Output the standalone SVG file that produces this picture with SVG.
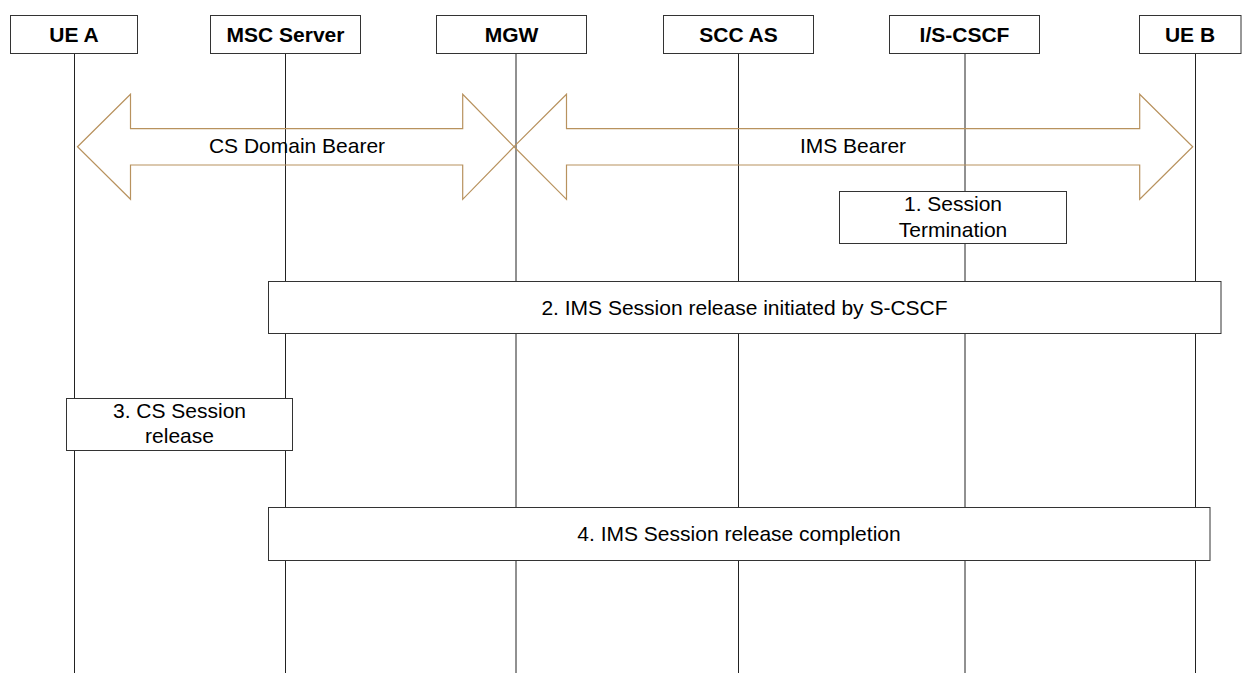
<svg xmlns="http://www.w3.org/2000/svg" width="1242" height="673" viewBox="0 0 1242 673">
<style>
.hdr{fill:#fff;stroke:#333;stroke-width:1}
.ht{font-family:"Liberation Sans",Arial,sans-serif;font-size:21px;font-weight:bold;fill:#000;text-anchor:middle}
.life{stroke:#222;stroke-width:1;fill:none}
.bearer{fill:none;stroke:#B8925E;stroke-width:1.2}
.box{fill:#fff;stroke:#333;stroke-width:1}
.t{font-family:"Liberation Sans",Arial,sans-serif;font-size:21px;fill:#000;text-anchor:middle}
</style>
<rect width="1242" height="673" fill="#fff"/>
<g id="lifelines" class="life">
<line x1="74.5" y1="53" x2="74.5" y2="673"/>
<line x1="285.5" y1="53" x2="285.5" y2="673"/>
<line x1="516" y1="53" x2="516" y2="673"/>
<line x1="738.5" y1="53" x2="738.5" y2="673"/>
<line x1="965" y1="53" x2="965" y2="673"/>
<line x1="1195.5" y1="53" x2="1195.5" y2="673"/>
</g>
<g id="ueA"><rect class="hdr" x="10.5" y="15.5" width="127" height="38"/><text class="ht" x="74" y="41.5">UE A</text></g>
<g id="msc"><rect class="hdr" x="210.5" y="15.5" width="150" height="38"/><text class="ht" x="285.5" y="41.5">MSC Server</text></g>
<g id="mgw"><rect class="hdr" x="436.5" y="15.5" width="150" height="38"/><text class="ht" x="511.5" y="41.5">MGW</text></g>
<g id="sccas"><rect class="hdr" x="663.5" y="15.5" width="150" height="38"/><text class="ht" x="738.5" y="41.5">SCC AS</text></g>
<g id="cscf"><rect class="hdr" x="889.5" y="15.5" width="150" height="38"/><text class="ht" x="964.5" y="41.5">I/S-CSCF</text></g>
<g id="ueB"><rect class="hdr" x="1139.5" y="15.5" width="101.5" height="38"/><text class="ht" x="1190" y="41.5">UE B</text></g>
<g id="connectors">
<g id="csBearer">
<polygon class="bearer" points="77.5,146.7 130.5,94.3 130.5,128.7 462.7,128.7 462.7,94.3 514,146.7 462.7,199.3 462.7,165 130.5,165 130.5,199.3"/>
<text class="t" x="297" y="153.3">CS Domain Bearer</text>
</g>
<g id="imsBearer">
<polygon class="bearer" points="514,146.7 566.5,94.3 566.5,128.7 1139.7,128.7 1139.7,94.3 1192.7,146.7 1139.7,199.3 1139.7,165 566.5,165 566.5,199.3"/>
<text class="t" x="853" y="153.3">IMS Bearer</text>
</g>
</g>
<g id="step1"><rect class="box" x="839.5" y="191.5" width="227" height="52"/><text class="t" x="953" y="211">1. Session</text><text class="t" x="953" y="236.5">Termination</text></g>
<g id="step2"><rect class="box" x="268.5" y="281.5" width="952.5" height="52"/><text class="t" x="744.5" y="314.5">2. IMS Session release initiated by S-CSCF</text></g>
<g id="step3"><rect class="box" x="66.5" y="398.5" width="226" height="52"/><text class="t" x="179.5" y="417.5">3. CS Session</text><text class="t" x="179.5" y="443">release</text></g>
<g id="step4"><rect class="box" x="268.5" y="507.5" width="941.5" height="53"/><text class="t" x="739" y="540.5">4. IMS Session release completion</text></g>
</svg>
